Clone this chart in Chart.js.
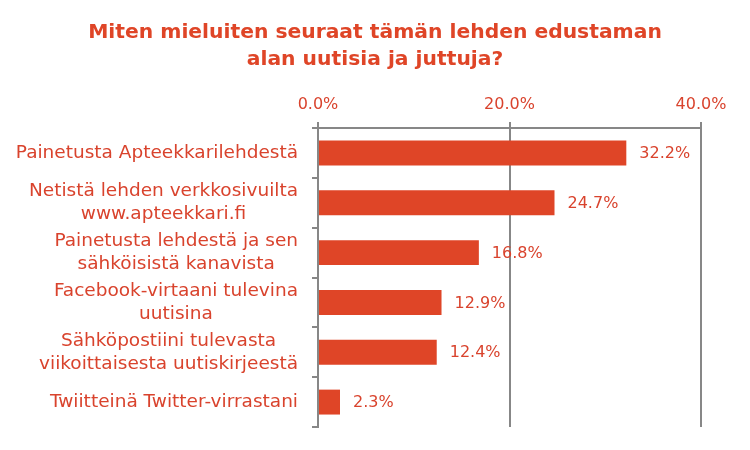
<!DOCTYPE html>
<html>
<head>
<meta charset="utf-8">
<script src="https://cdn.jsdelivr.net/npm/chart.js@4"></script>
<style>
  body { margin: 0; background: #fff; }
  #wrap { width: 750px; height: 450px; }
</style>
</head>
<body>
<div id="wrap"><canvas id="myChart" width="750" height="450"></canvas></div>
<script>
const categories = [
  ['Painetusta Apteekkarilehdestä'],
  ['Netistä lehden verkkosivuilta', 'www.apteekkari.fi'],
  ['Painetusta lehdestä ja sen', 'sähköisistä kanavista'],
  ['Facebook-virtaani tulevina', 'uutisina'],
  ['Sähköpostiini tulevasta', 'viikoittaisesta uutiskirjeestä'],
  ['Twiitteinä Twitter-virrastani']
];
const shares = [32.2, 24.7, 16.8, 12.9, 12.4, 2.3];
const titleLines = ['Miten mieluiten seuraat tämän lehden edustaman', 'alan uutisia ja juttuja?'];

const red = '#DF4527';
const textRed = '#D9432D';
const grey = '#878787';
const fontName = '"DejaVu Sans", Tahoma, sans-serif';

// title centred on the whole canvas (built-in one centres on the padded box)
const pageTitle = {
  id: 'pageTitle',
  afterDraw(chart) {
    const c = chart.ctx;
    c.save();
    c.font = 'bold 20.3px ' + fontName;
    c.fillStyle = red;
    c.textAlign = 'center';
    c.textBaseline = 'middle';
    titleLines.forEach((t, k) => c.fillText(t, chart.width / 2, 33 + k * 27));
    c.restore();
  }
};

// labels on the left: block right-aligned, lines centered inside the block
const categoryLabels = {
  id: 'categoryLabels',
  afterDraw(chart) {
    const c = chart.ctx;
    const y = chart.scales.y;
    const right = y.right - 20;
    const lh = 23;
    c.save();
    c.font = '18.5px ' + fontName;
    c.fillStyle = textRed;
    c.textAlign = 'center';
    c.textBaseline = 'middle';
    categories.forEach((lines, i) => {
      const w = Math.max(...lines.map(l => c.measureText(l).width));
      const cx = right - w / 2;
      const cy = y.getPixelForTick(i);
      lines.forEach((l, k) => {
        c.fillText(l, cx, cy + (k - (lines.length - 1) / 2) * lh);
      });
    });
    c.restore();
  }
};

// value labels at bar ends
const valueLabels = {
  id: 'valueLabels',
  afterDatasetsDraw(chart) {
    const c = chart.ctx;
    c.save();
    c.font = '16px ' + fontName;
    c.fillStyle = textRed;
    c.textAlign = 'left';
    c.textBaseline = 'middle';
    chart.getDatasetMeta(0).data.forEach((bar, i) => {
      c.fillText(shares[i].toFixed(1) + '%', bar.x + 13, bar.y + 1);
    });
    c.restore();
  }
};

const ctx = document.getElementById('myChart').getContext('2d');
const myChart = new Chart(ctx, {
  type: 'bar',
  data: {
    labels: categories,
    datasets: [{
      data: shares,
      backgroundColor: red,
      barPercentage: 0.5,
      categoryPercentage: 1.0
    }]
  },
  options: {
    indexAxis: 'y',
    responsive: false,
    animation: false,
    devicePixelRatio: 1,
    layout: { padding: { left: 0, right: 49, top: 82, bottom: 23 } },
    plugins: {
      legend: { display: false },
      tooltip: { enabled: false },
      title: { display: false }
    },
    scales: {
      x: {
        position: 'top',
        min: 0,
        max: 40,
        afterFit: s => { s.height = 46; },
        ticks: {
          stepSize: 20,
          color: textRed,
          font: { family: fontName, size: 16 },
          padding: 8,
          callback: v => v.toFixed(1) + '%'
        },
        grid: { color: grey, lineWidth: 2, tickLength: 6 },
        border: { color: grey, width: 2 }
      },
      y: {
        afterFit: s => { s.width = 318; },
        ticks: { color: 'transparent', font: { family: fontName, size: 16 } },
        grid: { drawOnChartArea: false, color: grey, lineWidth: 2, tickLength: 6, offset: true },
        border: { color: grey, width: 2 }
      }
    }
  },
  plugins: [pageTitle, categoryLabels, valueLabels]
});
</script>
</body>
</html>
